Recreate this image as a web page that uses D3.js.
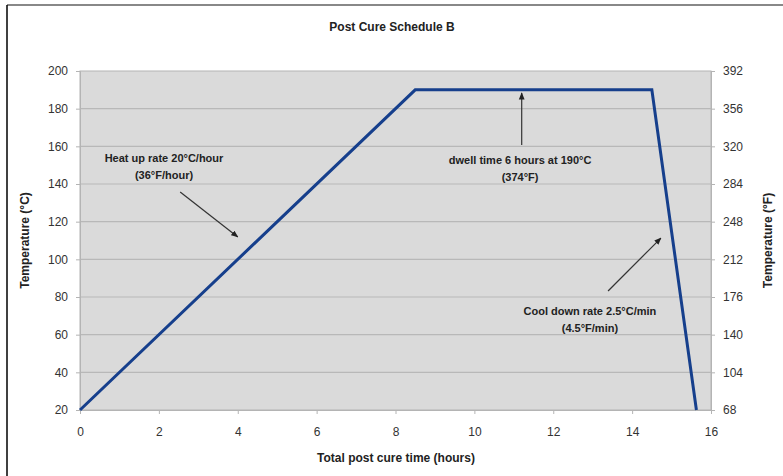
<!DOCTYPE html>
<html>
<head>
<meta charset="utf-8">
<script src="https://cdn.jsdelivr.net/npm/d3@7"></script>
<style>
  body { margin: 0; background: #fff; }
  svg text { font-family: "Liberation Sans", Arial, sans-serif; }
</style>
</head>
<body>
<div id="chart"></div>
<script>
// cure schedule: time (h) vs temperature (°C)
var timeHours = [0, 8.5, 14.5, 15.63];
var tempC = [20, 190, 190, 20];

var xTicks = [0, 2, 4, 6, 8, 10, 12, 14, 16];
var yTicksC = [20, 40, 60, 80, 100, 120, 140, 160, 180, 200];
var yTicksF = [68, 104, 140, 176, 212, 248, 284, 320, 356, 392];

var notes = [
  { lines: ["Heat up rate 20°C/hour", "(36°F/hour)"], tx: 2.13, ty: 151.5, from: [2.54, 135.8], to: [4.0, 111.9] },
  { lines: ["dwell time 6 hours at 190°C", "(374°F)"], tx: 11.16, ty: 150.5, from: [11.2, 160.7], to: [11.2, 188.3] },
  { lines: ["Cool down rate 2.5°C/min", "(4.5°F/min)"], tx: 12.93, ty: 70.5, from: [13.39, 83.2], to: [14.73, 111.3] }
];

var width = 783,
    height = 476,
    plotLeft = 80,
    plotRight = 711,
    plotTop = 71,
    plotBottom = 410;

var svg = d3.select("#chart").append("svg")
    .attr("width", width)
    .attr("height", height);

// outer frame
svg.append("line").attr("x1", 7).attr("x2", width).attr("y1", 5).attr("y2", 5)
    .attr("stroke", "#888").attr("stroke-width", 2);
svg.append("line").attr("x1", 7).attr("x2", 7).attr("y1", 5).attr("y2", height)
    .attr("stroke", "#000").attr("stroke-width", 1.5);

var x = d3.scaleLinear().domain([0, 16]).range([plotLeft, plotRight]);
var y = d3.scaleLinear().domain([20, 200]).range([plotBottom, plotTop]);
var yF = d3.scaleLinear().domain([68, 392]).range([plotBottom, plotTop]);

svg.append("rect")
    .attr("x", plotLeft).attr("y", plotTop)
    .attr("width", plotRight - plotLeft).attr("height", plotBottom - plotTop)
    .attr("fill", "#dadada")
    .attr("stroke", "#b4b4b4");

// gridlines
svg.append("g").selectAll("line")
    .data(yTicksC.slice(1, -1))
    .enter().append("line")
    .attr("x1", plotLeft).attr("x2", plotRight)
    .attr("y1", function(d) { return y(d); })
    .attr("y2", function(d) { return y(d); })
    .attr("stroke", "#b8b8b8").attr("stroke-width", 1.2);

function styleAxis(g) {
    g.select(".domain").attr("stroke", "#b4b4b4");
    g.selectAll(".tick line").attr("stroke", "#b4b4b4");
    g.selectAll(".tick text").attr("fill", "#333").style("font-size", "12px")
        .style("font-family", "'Liberation Sans', Arial, sans-serif");
}

svg.append("g")
    .attr("transform", "translate(0," + plotBottom + ")")
    .call(d3.axisBottom(x).tickValues(xTicks).tickSize(4).tickPadding(13))
    .call(styleAxis);

svg.append("g")
    .attr("transform", "translate(" + plotLeft + ",0)")
    .call(d3.axisLeft(y).tickValues(yTicksC).tickSize(4).tickPadding(8))
    .call(styleAxis);

svg.append("g")
    .attr("transform", "translate(" + plotRight + ",0)")
    .call(d3.axisRight(yF).tickValues(yTicksF).tickSize(4).tickPadding(8))
    .call(styleAxis);

// schedule line
var line = d3.line()
    .x(function(d, i) { return x(timeHours[i]); })
    .y(function(d) { return y(d); });

svg.append("path")
    .datum(tempC)
    .attr("d", line)
    .attr("fill", "none")
    .attr("stroke", "#163f8c")
    .attr("stroke-width", 3)
    .attr("stroke-linejoin", "miter");

// arrows
svg.append("defs").append("marker")
    .attr("id", "arrow")
    .attr("viewBox", "0 0 10 10")
    .attr("refX", 9).attr("refY", 5)
    .attr("markerWidth", 6).attr("markerHeight", 6)
    .attr("orient", "auto")
    .append("path").attr("d", "M0,1 L10,5 L0,9 z").attr("fill", "#222");

notes.forEach(function(n) {
    var t = svg.append("text")
        .attr("text-anchor", "middle")
        .attr("font-size", "11px")
        .attr("font-weight", "bold")
        .attr("fill", "#222");
    n.lines.forEach(function(s, i) {
        t.append("tspan")
            .attr("x", x(n.tx))
            .attr("y", y(n.ty) + i * 17)
            .text(s);
    });
    svg.append("line")
        .attr("x1", x(n.from[0])).attr("y1", y(n.from[1]))
        .attr("x2", x(n.to[0])).attr("y2", y(n.to[1]))
        .attr("stroke", "#333").attr("stroke-width", 1.2)
        .attr("marker-end", "url(#arrow)");
});

// titles
svg.append("text")
    .attr("x", 392).attr("y", 31)
    .attr("text-anchor", "middle")
    .attr("font-size", "12px").attr("font-weight", "bold")
    .attr("fill", "#222")
    .text("Post Cure Schedule B");

svg.append("text")
    .attr("x", 396).attr("y", 462)
    .attr("text-anchor", "middle")
    .attr("font-size", "12px").attr("font-weight", "bold")
    .attr("fill", "#222")
    .text("Total post cure time (hours)");

svg.append("text")
    .attr("transform", "translate(29," + ((plotTop + plotBottom) / 2) + ") rotate(-90)")
    .attr("text-anchor", "middle")
    .attr("font-size", "12px").attr("font-weight", "bold")
    .attr("fill", "#222")
    .text("Temperature (°C)");

svg.append("text")
    .attr("transform", "translate(772," + ((plotTop + plotBottom) / 2) + ") rotate(-90)")
    .attr("text-anchor", "middle")
    .attr("font-size", "12px").attr("font-weight", "bold")
    .attr("fill", "#222")
    .text("Temperature (°F)");
</script>
</body>
</html>
